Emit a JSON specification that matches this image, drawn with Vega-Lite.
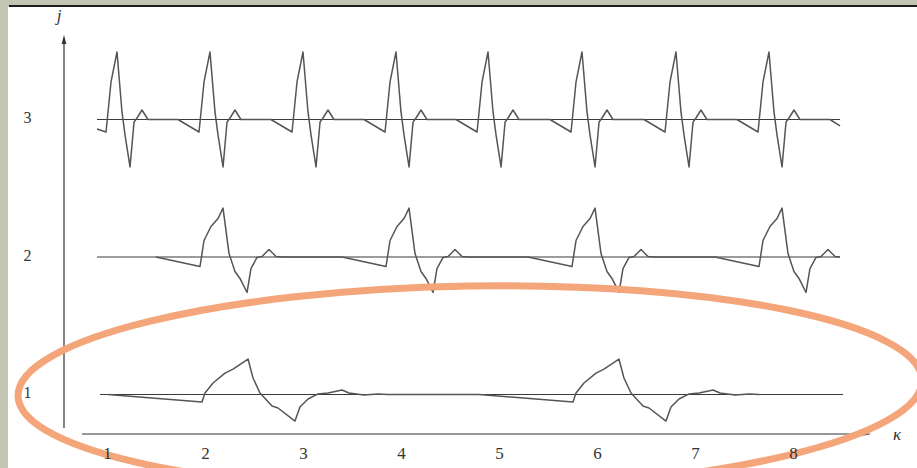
{
"$schema": "https://vega.github.io/schema/vega-lite/v6.json",
"width": 909, "height": 461,
"autosize": {"type": "none"},
"padding": {"left": 8, "top": 7, "right": 0, "bottom": 0},
"background": "#c3c5b2",
"config": {"view": {"fill": "white", "stroke": null}},
"datasets": {
"baselines": [
{"k": 0.898, "k2": 8.480, "j": 3, "j2": 3},
{"k": 0.898, "k2": 8.480, "j": 2, "j2": 2},
{"k": 0.929, "k2": 8.510, "j": 1, "j2": 1}
],
"axislines": [
{"k": 0.5612, "k2": 0.5612, "j": 0.7564, "j2": 3.578},
{"k": 0.745, "k2": 8.735, "j": 0.7127, "j2": 0.7127}
],
"frame": [{"k": 0, "k2": 9.4, "j": 3.8255, "j2": 3.8255}],
"arrows": [
{"k": 0.5612, "j": 3.5818, "dir": "up"},
{"k": 8.7347, "j": 0.7127, "dir": "right"}
],
"titles": [
{"k": 0.5102, "j": 3.7527, "t": "j"},
{"k": 9.0612, "j": 0.7055, "t": "κ"}
],
"highlight": [{"k": 4.704, "j": 1.0473}],
"curves": [
{"s":3,"k":0.898,"j":2.931},{"s":3,"k":0.990,"j":2.909},{"s":3,"k":1.041,"j":3.273},{"s":3,"k":1.102,"j":3.491},{"s":3,"k":1.153,"j":3.055},{"s":3,"k":1.184,"j":2.887},{"s":3,"k":1.235,"j":2.655},{"s":3,"k":1.276,"j":2.982},{"s":3,"k":1.306,"j":3.011},{"s":3,"k":1.357,"j":3.069},{"s":3,"k":1.418,"j":3.0},
{"s":3,"k":1.724,"j":3.0},{"s":3,"k":1.939,"j":2.909},{"s":3,"k":1.990,"j":3.273},{"s":3,"k":2.051,"j":3.491},{"s":3,"k":2.102,"j":3.055},{"s":3,"k":2.133,"j":2.887},{"s":3,"k":2.184,"j":2.655},{"s":3,"k":2.225,"j":2.982},{"s":3,"k":2.255,"j":3.011},{"s":3,"k":2.306,"j":3.069},{"s":3,"k":2.367,"j":3.0},
{"s":3,"k":2.673,"j":3.0},{"s":3,"k":2.888,"j":2.909},{"s":3,"k":2.939,"j":3.273},{"s":3,"k":3.0,"j":3.491},{"s":3,"k":3.051,"j":3.055},{"s":3,"k":3.082,"j":2.887},{"s":3,"k":3.133,"j":2.655},{"s":3,"k":3.174,"j":2.982},{"s":3,"k":3.204,"j":3.011},{"s":3,"k":3.255,"j":3.069},{"s":3,"k":3.316,"j":3.0},
{"s":3,"k":3.622,"j":3.0},{"s":3,"k":3.837,"j":2.909},{"s":3,"k":3.888,"j":3.273},{"s":3,"k":3.949,"j":3.491},{"s":3,"k":4.0,"j":3.055},{"s":3,"k":4.031,"j":2.887},{"s":3,"k":4.082,"j":2.655},{"s":3,"k":4.123,"j":2.982},{"s":3,"k":4.153,"j":3.011},{"s":3,"k":4.204,"j":3.069},{"s":3,"k":4.265,"j":3.0},
{"s":3,"k":4.561,"j":3.0},{"s":3,"k":4.776,"j":2.909},{"s":3,"k":4.827,"j":3.273},{"s":3,"k":4.888,"j":3.491},{"s":3,"k":4.939,"j":3.055},{"s":3,"k":4.970,"j":2.887},{"s":3,"k":5.021,"j":2.655},{"s":3,"k":5.062,"j":2.982},{"s":3,"k":5.092,"j":3.011},{"s":3,"k":5.143,"j":3.069},{"s":3,"k":5.204,"j":3.0},
{"s":3,"k":5.520,"j":3.0},{"s":3,"k":5.735,"j":2.909},{"s":3,"k":5.786,"j":3.273},{"s":3,"k":5.847,"j":3.491},{"s":3,"k":5.898,"j":3.055},{"s":3,"k":5.929,"j":2.887},{"s":3,"k":5.980,"j":2.655},{"s":3,"k":6.021,"j":2.982},{"s":3,"k":6.051,"j":3.011},{"s":3,"k":6.102,"j":3.069},{"s":3,"k":6.163,"j":3.0},
{"s":3,"k":6.479,"j":3.0},{"s":3,"k":6.694,"j":2.909},{"s":3,"k":6.745,"j":3.273},{"s":3,"k":6.806,"j":3.491},{"s":3,"k":6.857,"j":3.055},{"s":3,"k":6.888,"j":2.887},{"s":3,"k":6.939,"j":2.655},{"s":3,"k":6.980,"j":2.982},{"s":3,"k":7.010,"j":3.011},{"s":3,"k":7.061,"j":3.069},{"s":3,"k":7.122,"j":3.0},
{"s":3,"k":7.428,"j":3.0},{"s":3,"k":7.643,"j":2.909},{"s":3,"k":7.694,"j":3.273},{"s":3,"k":7.755,"j":3.491},{"s":3,"k":7.806,"j":3.055},{"s":3,"k":7.837,"j":2.887},{"s":3,"k":7.888,"j":2.655},{"s":3,"k":7.929,"j":2.982},{"s":3,"k":7.959,"j":3.011},{"s":3,"k":8.010,"j":3.069},{"s":3,"k":8.071,"j":3.0},
{"s":3,"k":8.377,"j":3.0},{"s":3,"k":8.480,"j":2.953},
{"s":2,"k":1.500,"j":2.0},{"s":2,"k":1.949,"j":1.931},{"s":2,"k":1.990,"j":2.120},{"s":2,"k":2.061,"j":2.222},{"s":2,"k":2.133,"j":2.280},{"s":2,"k":2.184,"j":2.356},{"s":2,"k":2.245,"j":2.025},{"s":2,"k":2.306,"j":1.895},{"s":2,"k":2.357,"j":1.844},{"s":2,"k":2.429,"j":1.742},{"s":2,"k":2.469,"j":1.916},{"s":2,"k":2.531,"j":1.997},{"s":2,"k":2.582,"j":2.004},{"s":2,"k":2.653,"j":2.055},{"s":2,"k":2.725,"j":2.004},{"s":2,"k":2.796,"j":2.0},
{"s":2,"k":3.398,"j":2.0},{"s":2,"k":3.847,"j":1.931},{"s":2,"k":3.888,"j":2.120},{"s":2,"k":3.959,"j":2.222},{"s":2,"k":4.031,"j":2.280},{"s":2,"k":4.082,"j":2.356},{"s":2,"k":4.143,"j":2.025},{"s":2,"k":4.204,"j":1.895},{"s":2,"k":4.255,"j":1.844},{"s":2,"k":4.327,"j":1.742},{"s":2,"k":4.367,"j":1.916},{"s":2,"k":4.429,"j":1.997},{"s":2,"k":4.480,"j":2.004},{"s":2,"k":4.551,"j":2.055},{"s":2,"k":4.623,"j":2.004},{"s":2,"k":4.694,"j":2.0},
{"s":2,"k":5.296,"j":2.0},{"s":2,"k":5.745,"j":1.931},{"s":2,"k":5.786,"j":2.120},{"s":2,"k":5.857,"j":2.222},{"s":2,"k":5.929,"j":2.280},{"s":2,"k":5.980,"j":2.356},{"s":2,"k":6.041,"j":2.025},{"s":2,"k":6.102,"j":1.895},{"s":2,"k":6.153,"j":1.844},{"s":2,"k":6.225,"j":1.742},{"s":2,"k":6.265,"j":1.916},{"s":2,"k":6.327,"j":1.997},{"s":2,"k":6.378,"j":2.004},{"s":2,"k":6.449,"j":2.055},{"s":2,"k":6.521,"j":2.004},{"s":2,"k":6.592,"j":2.0},
{"s":2,"k":7.204,"j":2.0},{"s":2,"k":7.653,"j":1.931},{"s":2,"k":7.694,"j":2.120},{"s":2,"k":7.765,"j":2.222},{"s":2,"k":7.837,"j":2.280},{"s":2,"k":7.888,"j":2.356},{"s":2,"k":7.949,"j":2.025},{"s":2,"k":8.010,"j":1.895},{"s":2,"k":8.061,"j":1.844},{"s":2,"k":8.133,"j":1.742},{"s":2,"k":8.173,"j":1.916},{"s":2,"k":8.235,"j":1.997},{"s":2,"k":8.286,"j":2.004},{"s":2,"k":8.357,"j":2.055},{"s":2,"k":8.429,"j":2.004},{"s":2,"k":8.480,"j":2.0},
{"s":1,"k":1.010,"j":1.0},{"s":1,"k":1.969,"j":0.945},{"s":1,"k":2.000,"j":1.011},{"s":1,"k":2.082,"j":1.084},{"s":1,"k":2.204,"j":1.156},{"s":1,"k":2.286,"j":1.185},{"s":1,"k":2.439,"j":1.258},{"s":1,"k":2.490,"j":1.120},{"s":1,"k":2.561,"j":1.011},{"s":1,"k":2.684,"j":0.916},{"s":1,"k":2.745,"j":0.902},{"s":1,"k":2.918,"j":0.807},{"s":1,"k":2.969,"j":0.909},{"s":1,"k":3.051,"j":0.967},{"s":1,"k":3.153,"j":1.004},{"s":1,"k":3.255,"j":1.011},{"s":1,"k":3.398,"j":1.033},{"s":1,"k":3.469,"j":1.011},{"s":1,"k":3.622,"j":0.996},{"s":1,"k":3.765,"j":1.004},{"s":1,"k":3.867,"j":1.0},
{"s":1,"k":4.796,"j":1.0},{"s":1,"k":5.755,"j":0.945},{"s":1,"k":5.786,"j":1.011},{"s":1,"k":5.867,"j":1.084},{"s":1,"k":5.990,"j":1.156},{"s":1,"k":6.071,"j":1.185},{"s":1,"k":6.224,"j":1.258},{"s":1,"k":6.275,"j":1.120},{"s":1,"k":6.347,"j":1.011},{"s":1,"k":6.469,"j":0.916},{"s":1,"k":6.531,"j":0.902},{"s":1,"k":6.704,"j":0.807},{"s":1,"k":6.755,"j":0.909},{"s":1,"k":6.837,"j":0.967},{"s":1,"k":6.939,"j":1.004},{"s":1,"k":7.041,"j":1.011},{"s":1,"k":7.184,"j":1.033},{"s":1,"k":7.255,"j":1.011},{"s":1,"k":7.408,"j":0.996},{"s":1,"k":7.551,"j":1.004},{"s":1,"k":7.653,"j":1.0}
]
},
"encoding": {
"x": {"field": "k", "type": "quantitative", "scale": {"domain": [-0.0102, 9.2653], "nice": false, "zero": false},
"axis": {"orient": "bottom", "values": [1,2,3,4,5,6,7,8], "format": "d", "domain": false, "ticks": false, "grid": false, "offset": -15, "labelPadding": 0, "labelBaseline": "middle", "labelFlush": false, "labelOverlap": false, "labelFont": "Liberation Serif", "labelFontSize": 17, "labelColor": "#333333", "title": null, "zindex": 1}},
"y": {"field": "j", "type": "quantitative", "scale": {"domain": [0.4655, 3.8182], "nice": false, "zero": false},
"axis": {"orient": "left", "values": [1,2,3], "format": "d", "domain": false, "ticks": false, "grid": false, "offset": -19, "labelPadding": 0, "labelAlign": "center", "labelBaseline": "middle", "labelOffset": -2, "labelFlush": false, "labelFont": "Liberation Serif", "labelFontSize": 16, "labelColor": "#333333", "title": null, "zindex": 1}}
},
"layer": [
{
"data": {"name": "baselines"},
"mark": {"type": "rule", "color": "#3a3a3a", "strokeWidth": 1.2},
"encoding": {"x2": {"field": "k2"}, "y2": {"field": "j2"}}
},
{
"data": {"name": "axislines"},
"mark": {"type": "rule", "color": "#333333", "strokeWidth": 1.2},
"encoding": {"x2": {"field": "k2"}, "y2": {"field": "j2"}}
},
{
"data": {"name": "frame"},
"mark": {"type": "rule", "color": "#1c1c1c", "strokeWidth": 2},
"encoding": {"x2": {"field": "k2"}, "y2": {"field": "j2"}}
},
{
"data": {"name": "curves"},
"mark": {"type": "line", "color": "#555555", "strokeWidth": 1.5, "strokeJoin": "round"},
"encoding": {"detail": {"field": "s", "type": "nominal"}}
},
{
"data": {"name": "arrows"},
"mark": {"type": "point", "filled": true, "size": 144, "color": "#333333", "opacity": 1},
"encoding": {
"shape": {"field": "dir", "type": "nominal", "scale": {"domain": ["up", "right"], "range": ["M -0.4 0.75 L 0 -0.75 L 0.4 0.75 Z", "M -1 -0.4 L 1 0 L -1 0.4 Z"]}, "legend": null}
}
},
{
"data": {"name": "titles"},
"mark": {"type": "text", "font": "Liberation Serif", "fontStyle": "italic", "fontSize": 17, "color": "#333333", "align": "center", "baseline": "middle"},
"encoding": {"text": {"field": "t", "type": "nominal"}}
},
{
"data": {"name": "highlight"},
"mark": {"type": "point", "shape": "M -1 0 A 1 0.2257 0 1 0 1 0 A 1 0.2257 0 1 0 -1 0 Z", "size": 817216, "filled": false, "stroke": "#f4a57a", "strokeWidth": 7, "opacity": 1, "angle": -1},
"encoding": {}
}
]
}
